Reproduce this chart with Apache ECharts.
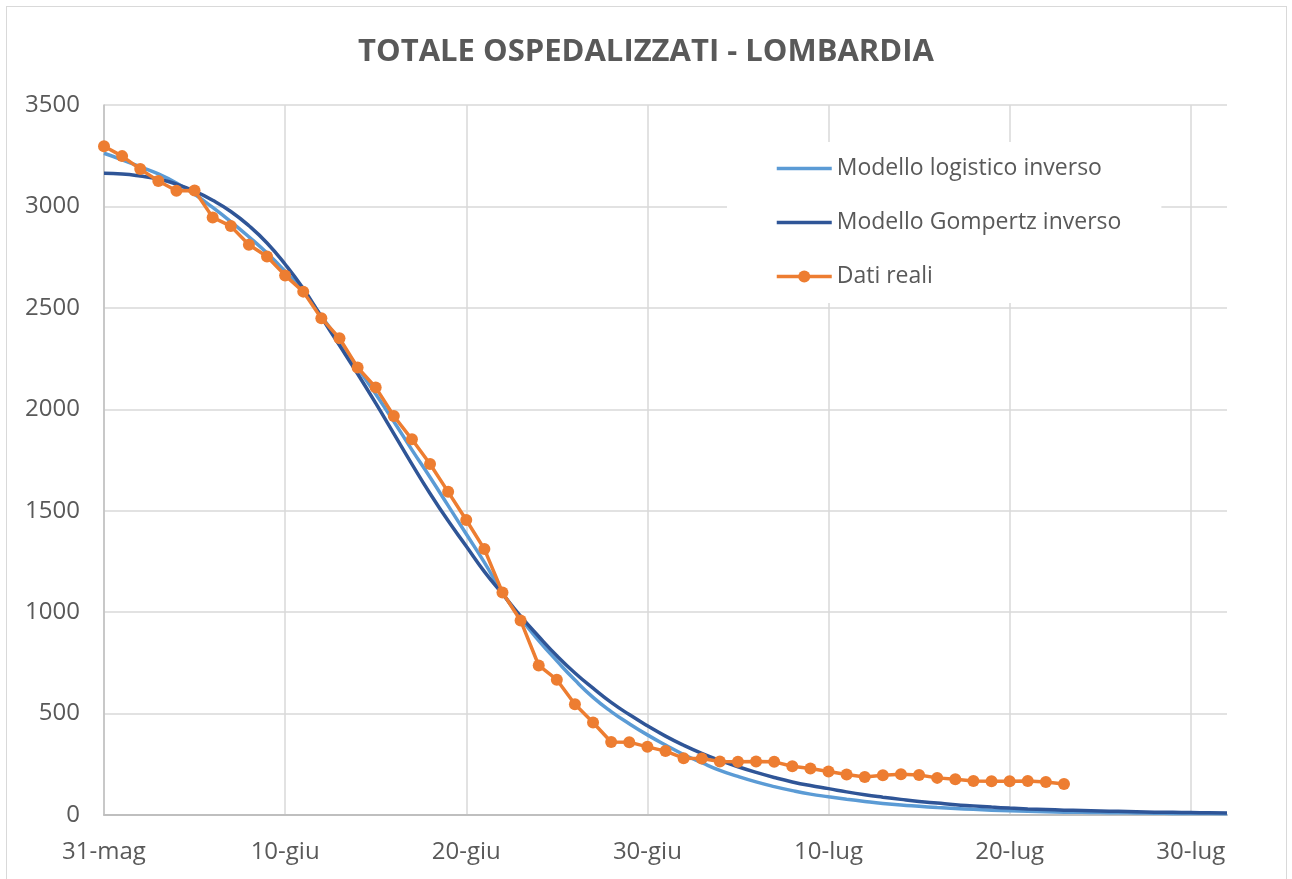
<!DOCTYPE html>
<html>
<head>
<meta charset="utf-8">
<title>Totale ospedalizzati - Lombardia</title>
<script src="https://cdn.jsdelivr.net/npm/echarts@6/dist/echarts.min.js"></script>
<style>
html, body { margin: 0; padding: 0; background: #fff; }
#chart { width: 1292px; height: 879px; }
#bordo { position: absolute; left: 6px; top: 6px; width: 1279px; height: 880px; border: 1px solid #d9d9d9; pointer-events: none; }
</style>
</head>
<body>
<div id="chart"></div>
<div id="bordo"></div>
<script>
// giorni dal 31 maggio al 1 agosto
const mesi = ['gen', 'feb', 'mar', 'apr', 'mag', 'giu', 'lug', 'ago', 'set', 'ott', 'nov', 'dic'];
const giorni = [];
for (let i = 0; i < 63; i++) {
    const d = new Date(2020, 4, 31 + i);
    giorni.push(d.getDate() + '-' + mesi[d.getMonth()]);
}

const logistico = [
    3262, 3230, 3195, 3160, 3115, 3060, 2995, 2925, 2850, 2770,
    2680, 2580, 2460, 2335, 2205, 2075, 1940, 1800, 1665, 1525,
    1385, 1245, 1095, 970, 860, 760, 665, 580, 510, 450,
    395, 345, 298, 258, 220, 190, 163, 140, 120, 103,
    90, 78, 67, 57, 49, 43, 37, 32, 28, 24,
    21, 18, 16, 14, 13, 12, 11, 10, 9, 8,
    7, 7, 6
];

const gompertz = [
    3163, 3160, 3150, 3135, 3110, 3075, 3030, 2975, 2905, 2820,
    2715, 2595, 2455, 2315, 2175, 2030, 1880, 1730, 1585, 1450,
    1325, 1200, 1090, 980, 880, 785, 700, 625, 555, 495,
    440, 389, 344, 304, 269, 238, 210, 185, 163, 145,
    130, 114, 100, 88, 77, 67, 59, 51, 45, 39,
    34, 30, 27, 24, 22, 20, 18, 16, 14, 13,
    12, 11, 10
];

const datiReali = [
    3297, 3248, 3184, 3125, 3077, 3079, 2946, 2903, 2811, 2753,
    2660, 2580, 2449, 2350, 2206, 2108, 1967, 1852, 1730, 1593,
    1454, 1311, 1097, 959, 737, 667, 546, 456, 360, 359,
    336, 315, 280, 279, 264, 263, 264, 262, 240, 229,
    214, 200, 187, 196, 201, 197, 183, 176, 168, 166,
    166, 168, 163, 153
];

const font = 'Open Sans';
const grigio = '#595959';

const myChart = echarts.init(document.getElementById('chart'));
myChart.setOption({
    animation: false,
    title: {
        text: 'TOTALE OSPEDALIZZATI - LOMBARDIA',
        left: 'center',
        top: 32,
        textStyle: {fontFamily: font, fontWeight: 'bold', fontSize: 31, color: grigio}
    },
    legend: {
        orient: 'vertical',
        left: 727,
        top: 142,
        padding: [15, 40, 15, 48],
        backgroundColor: '#fff',
        itemWidth: 55,
        itemHeight: 15,
        itemGap: 31,
        lineStyle: {width: 3.5},
        textStyle: {fontFamily: font, fontSize: 23, color: grigio},
        data: [
            {name: 'Modello logistico inverso', itemStyle: {opacity: 0}},
            {name: 'Modello Gompertz inverso', itemStyle: {opacity: 0}},
            'Dati reali'
        ]
    },
    grid: {left: 104, right: 65, top: 105, bottom: 64},
    xAxis: {
        type: 'category',
        data: giorni,
        boundaryGap: false,
        axisLine: {lineStyle: {color: '#BFBFBF', width: 2}},
        axisTick: {show: false},
        axisLabel: {interval: 9, color: grigio, fontFamily: font, fontSize: 24, margin: 25},
        splitLine: {show: true, interval: 9, lineStyle: {color: '#D9D9D9', width: 1.5}}
    },
    yAxis: {
        type: 'value',
        min: 0,
        max: 3500,
        interval: 500,
        axisLine: {show: true, lineStyle: {color: '#BFBFBF', width: 1.5}},
        axisLabel: {
            color: grigio, fontFamily: font, fontSize: 24, margin: 24,
            formatter: function (v) { return String(v); }
        },
        splitLine: {lineStyle: {color: '#D9D9D9', width: 1.5}}
    },
    series: [
        {
            name: 'Modello logistico inverso',
            type: 'line',
            data: logistico,
            smooth: true,
            symbol: 'none',
            lineStyle: {color: '#5B9BD5', width: 3.5},
            itemStyle: {color: '#5B9BD5'}
        },
        {
            name: 'Modello Gompertz inverso',
            type: 'line',
            data: gompertz,
            smooth: true,
            symbol: 'none',
            lineStyle: {color: '#2F5597', width: 3.5},
            itemStyle: {color: '#2F5597'}
        },
        {
            name: 'Dati reali',
            type: 'line',
            data: datiReali,
            symbol: 'circle',
            symbolSize: 12,
            showAllSymbol: true,
            lineStyle: {color: '#ED7D31', width: 3.5},
            itemStyle: {color: '#ED7D31'}
        }
    ]
});
</script>
</body>
</html>
